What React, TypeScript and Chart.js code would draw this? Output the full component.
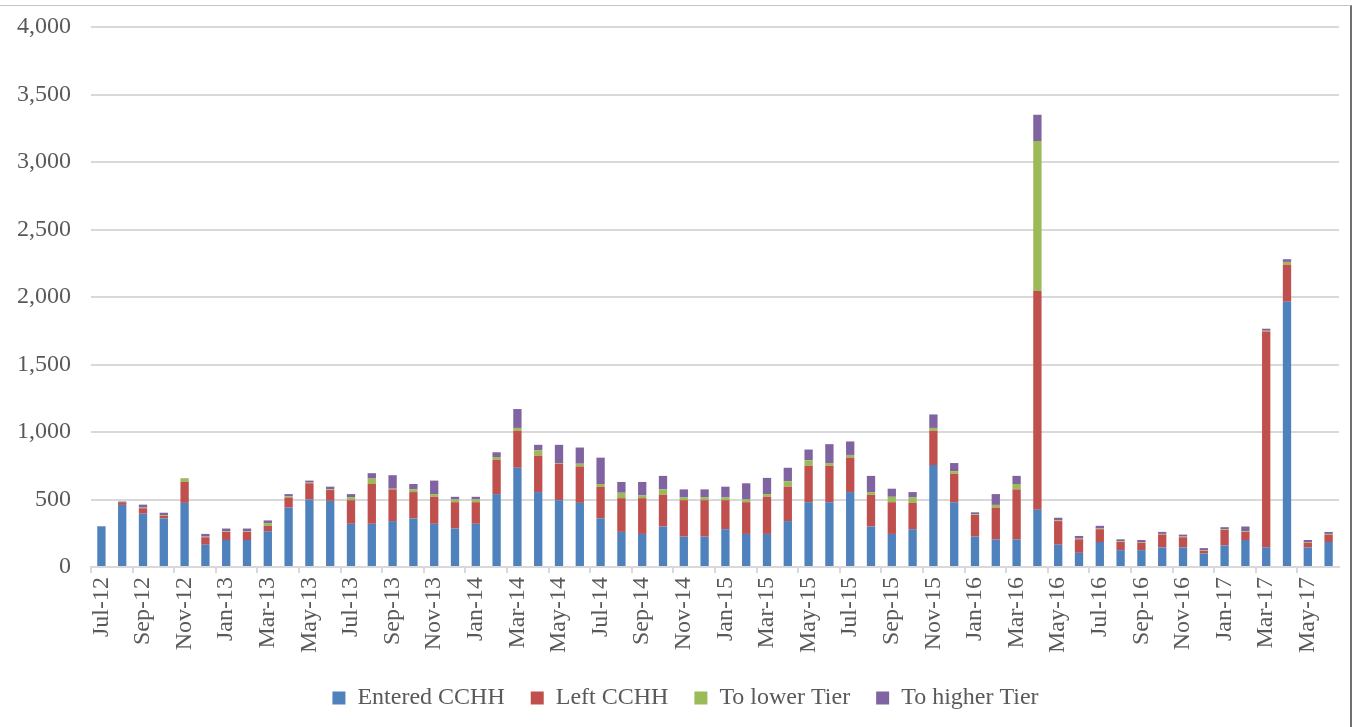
import React, { useEffect, useRef } from "react";
import { Chart, registerables } from "chart.js";

Chart.register(...registerables);

const months = [
  "Jul-12","Aug-12","Sep-12","Oct-12","Nov-12","Dec-12","Jan-13","Feb-13","Mar-13","Apr-13","May-13","Jun-13",
  "Jul-13","Aug-13","Sep-13","Oct-13","Nov-13","Dec-13","Jan-14","Feb-14","Mar-14","Apr-14","May-14","Jun-14",
  "Jul-14","Aug-14","Sep-14","Oct-14","Nov-14","Dec-14","Jan-15","Feb-15","Mar-15","Apr-15","May-15","Jun-15",
  "Jul-15","Aug-15","Sep-15","Oct-15","Nov-15","Dec-15","Jan-16","Feb-16","Mar-16","Apr-16","May-16","Jun-16",
  "Jul-16","Aug-16","Sep-16","Oct-16","Nov-16","Dec-16","Jan-17","Feb-17","Mar-17","Apr-17","May-17","Jun-17",
];

const enteredCCHH = [
  300,460,395,360,475,165,200,200,265,440,500,490,
  320,320,340,360,320,285,320,540,735,555,495,475,
  360,260,245,300,225,225,280,245,245,340,480,480,
  555,300,245,280,755,480,225,205,205,425,165,105,
  185,125,125,145,145,100,160,200,145,1965,145,185,
];

const leftCCHH = [
  0,20,40,20,155,55,60,60,40,75,120,80,
  175,295,235,195,200,195,160,255,275,270,270,270,
  235,250,265,235,270,270,215,235,275,255,270,270,
  255,235,235,195,255,210,160,235,370,1620,175,100,
  95,60,55,95,75,20,115,60,1600,275,35,55,
];

const toLowerTier = [
  0,0,5,5,25,5,5,5,20,8,5,5,
  20,40,5,20,20,20,20,20,20,40,5,20,
  20,40,20,40,20,20,20,20,20,40,40,20,
  20,20,40,40,20,20,5,20,40,1110,5,5,
  5,5,5,5,5,5,5,5,5,20,5,5,
];

const toHigherTier = [
  3,5,22,17,3,20,20,20,20,17,15,20,
  25,40,100,40,100,20,20,35,140,40,135,120,
  195,80,100,100,60,60,80,120,120,100,80,140,
  100,120,60,40,100,60,15,80,60,195,20,20,
  20,15,15,15,15,15,15,35,15,20,15,15,
];

const yTicks = [0, 500, 1000, 1500, 2000, 2500, 3000, 3500, 4000];

const FONT = "'Liberation Serif', 'Times New Roman', serif";
const TEXT = "#595959";
const GRID = "#d9d9d9";

const legendShift = {
  id: "legendShift",
  afterLayout(chart: any) {
    const l = chart.legend;
    if (l) {
      l.left += 16;
      l.right += 16;
    }
  },
};

export default function App() {
  const ref = useRef<HTMLCanvasElement | null>(null);

  useEffect(() => {
    if (!ref.current) return;
    const chart = new Chart(ref.current, {
      type: "bar",
      data: {
        labels: months,
        datasets: [
          { label: "Entered CCHH", data: enteredCCHH, backgroundColor: "#4f81bd" },
          { label: "Left CCHH", data: leftCCHH, backgroundColor: "#c0504d" },
          { label: "To lower Tier", data: toLowerTier, backgroundColor: "#9bbb59" },
          { label: "To higher Tier", data: toHigherTier, backgroundColor: "#8064a2" },
        ],
      },
      plugins: [legendShift],
      options: {
        animation: false,
        responsive: false,
        maintainAspectRatio: false,
        datasets: {
          bar: { categoryPercentage: 0.4, barPercentage: 1, borderWidth: 0 },
        },
        layout: { padding: { top: 27, right: 16, bottom: 7, left: 0 } },
        plugins: {
          tooltip: { enabled: false },
          legend: {
            position: "bottom",
            labels: {
              boxWidth: 13,
              boxHeight: 13,
              padding: 26,
              color: TEXT,
              font: { family: FONT, size: 24 },
            },
          },
        },
        scales: {
          x: {
            stacked: true,
            afterFit: (s: any) => {
              s.height = 93;
              s.paddingLeft = 0;
              s.paddingRight = 0;
            },
            grid: {
              offset: true,
              drawOnChartArea: false,
              drawTicks: true,
              tickLength: 6,
              lineWidth: 2,
              color: (c: any) => (c.index % 2 === 0 ? GRID : "rgba(0,0,0,0)"),
            },
            border: { display: true, color: GRID, width: 2 },
            ticks: {
              autoSkip: false,
              minRotation: 90,
              maxRotation: 90,
              padding: 4,
              color: TEXT,
              font: { family: FONT, size: 24 },
              callback: (_v: any, i: number) => (i % 2 === 0 ? months[i] : ""),
            },
          },
          y: {
            stacked: true,
            min: 0,
            max: 4000,
            afterFit: (s: any) => {
              s.width = 91;
              s.paddingTop = 0;
              s.paddingBottom = 0;
            },
            afterBuildTicks: (s: any) => { s.ticks = yTicks.map((v) => ({ value: v })); },
            grid: { color: GRID, lineWidth: 2, drawTicks: false },
            border: { display: false },
            ticks: {
              padding: 20,
              color: TEXT,
              font: { family: FONT, size: 24 },
              callback: (v: any) => Number(v).toLocaleString("en-US"),
            },
          },
        },
      },
    });
    return () => chart.destroy();
  }, []);

  return (
    <div style={{ position: "fixed", left: 0, top: 0, width: 1355, height: 727, background: "#fff", overflow: "hidden" }}>
      <canvas ref={ref} width={1355} height={727} style={{ display: "block" }} />
      <div
        style={{
          position: "absolute",
          left: -4,
          top: 5,
          width: 1356,
          height: 740,
          borderTop: "1px solid #c4c4c4",
          borderRight: "2px solid #707070",
          boxSizing: "border-box",
          pointerEvents: "none",
        }}
      />
    </div>
  );
}
